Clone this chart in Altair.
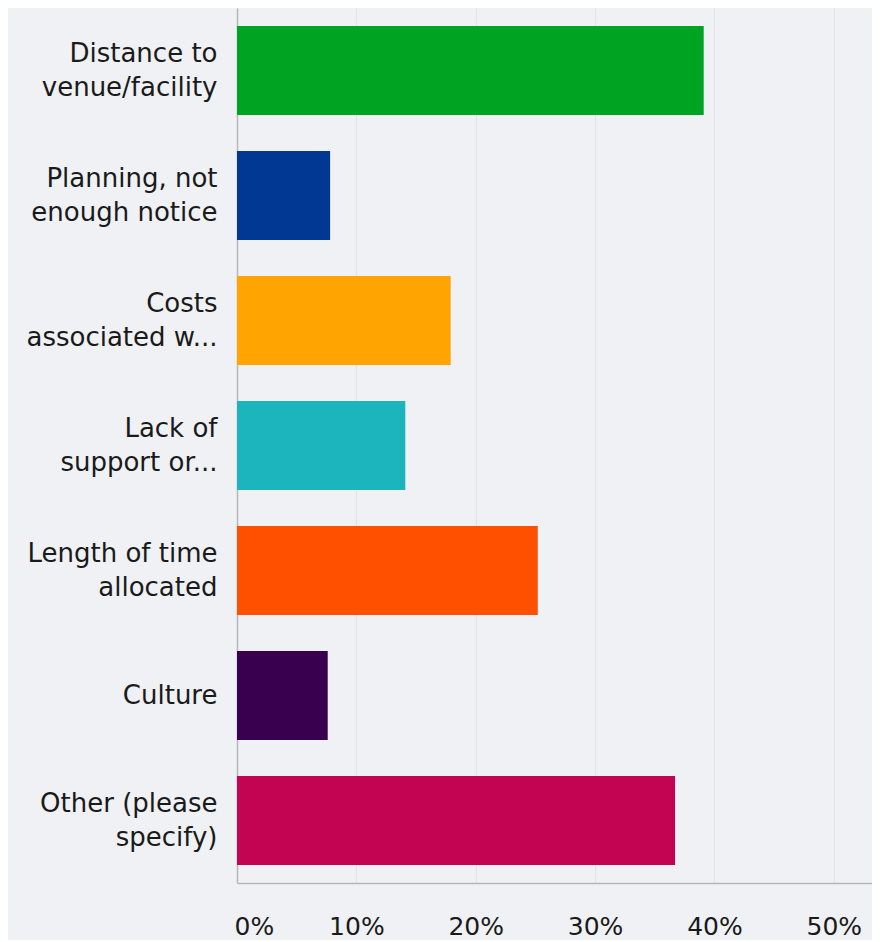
import altair as alt
import pandas as pd

categories = [
    "Distance to\nvenue/facility",
    "Planning, not\nenough notice",
    "Costs\nassociated w...",
    "Lack of\nsupport or...",
    "Length of time\nallocated",
    "Culture",
    "Other (please\nspecify)",
]
values = [0.391, 0.078, 0.179, 0.141, 0.252, 0.076, 0.367]
colors = ["#00a423", "#003893", "#ffa400", "#1cb5bd", "#ff5000", "#38004f", "#c20452"]
x_ticks = [0, 0.1, 0.2, 0.3, 0.4, 0.5]

df = pd.DataFrame({"cat": categories, "val": values, "col": colors})

chart = (
    alt.Chart(df)
    .mark_bar()
    .encode(
        y=alt.Y(
            "cat:N",
            sort=categories,
            title=None,
            scale=alt.Scale(paddingInner=0.288, paddingOuter=0.144),
            axis=alt.Axis(
                labelExpr="split(datum.label, '\\n')",
                labelFont="DejaVu Sans",
                labelFontSize=26,
                labelLineHeight=34,
                labelColor="#1a1a1a",
                labelPadding=20,
                labelLimit=400,
                labelOffset={
                    "condition": {"test": "indexof(datum.value, '\\n') >= 0", "value": -17},
                    "value": 0,
                },
                ticks=False,
                domainColor="#b8b8b8",
                domainWidth=1.5,
                grid=False,
            ),
        ),
        x=alt.X(
            "val:Q",
            title=None,
            scale=alt.Scale(domain=[0, 0.532], nice=False, zero=True),
            axis=alt.Axis(
                values=x_ticks,
                format=".0%",
                labelFont="DejaVu Sans",
                labelFontSize=25,
                labelColor="#1a1a1a",
                labelFlush=True,
                labelFlushOffset=3,
                labelPadding=31,
                labelBaseline="top",
                ticks=False,
                tickSize=0,
                domainColor="#b8b8b8",
                domainWidth=1.5,
                grid=True,
                gridColor="#e0e2e6",
                gridWidth=1,
            ),
        ),
        color=alt.Color("col:N", scale=None, legend=None),
    )
    .properties(
        width=635,
        height=875,
        autosize=alt.AutoSizeParams(type="none"),
        padding={"left": 229, "top": 0, "right": 0, "bottom": 57},
        background="#eff1f4",
    )
    .configure_view(stroke=None)
)

chart.save("out.html", embed_options={"renderer": "svg", "actions": False})
